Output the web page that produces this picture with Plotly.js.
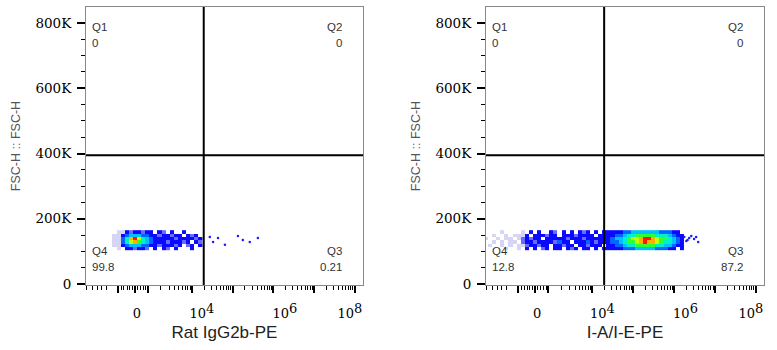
<!DOCTYPE html>
<html><head><meta charset="utf-8">
<script src="https://cdn.plot.ly/plotly-3.0.1.min.js"></script>
<style>html,body{margin:0;padding:0;background:#fff}#chart{width:777px;height:350px}</style>
</head><body><div id="chart"></div>
<script>
// ---------------- data ----------------
const xTitles = ['Rat IgG2b-PE', 'I-A/I-E-PE'];
const yTitle = 'FSC-H :: FSC-H';
const yTickVals = [0, 200000, 400000, 600000, 800000];
const yTickText = ['0', '200K', '400K', '600K', '800K'];
const xTickText = ['0', '10<sup><span style="font-size:13px">4</span></sup>', '10<sup><span style="font-size:13px">6</span></sup>', '10<sup><span style="font-size:13px">8</span></sup>'];
const quadNames = ['Q1', 'Q2', 'Q3', 'Q4'];
const leftQuadValues = ['0', '0', '0.21', '99.8'];
const rightQuadValues = ['0', '0', '87.2', '12.8'];
const gateX = 4.29;      // display units (decades)
const gateY = 395000;    // FSC-H

// density bins (FSC-H centres, bottom -> top)
const fscBins = [110000, 120000, 130000, 140000, 150000, 160000];

const leftBinsX = [2.0,2.1,2.2,2.3,2.4,2.5,2.6,2.7,2.8,2.9,3.0,3.1,3.2,3.3,3.4,3.5,3.6,3.7,3.8,3.9,4.0,4.1,4.2];
const leftDensity = [
  [0,0,1,0,3,3,2,3,3,2,0,3,0,3,2,0,3,0,0,0,3,0,0],
  [0,1,1,3,4,5,5,5,4,4,3,3,2,3,3,3,2,3,0,2,3,0,3],
  [0,1,1,4,6,8,9,7,6,5,4,3,3,3,2,3,3,3,2,3,0,3,2],
  [0,1,1,4,6,9,10,8,6,5,4,3,3,3,3,3,2,3,3,3,3,2,3],
  [0,1,1,3,4,5,5,5,4,4,3,3,2,3,3,2,3,3,0,3,2,3,0],
  [0,0,1,1,3,2,3,3,2,3,3,0,3,2,0,3,0,0,3,0,0,0,0]
];
const leftDotsX = [4.44, 4.52, 4.64, 4.81, 5.13, 5.25, 5.42, 5.62];
const leftDotsY = [144000, 129000, 141000, 120000, 147000, 135000, 129000, 141000];

const rightBinsX = [1.4,1.5,1.6,1.7,1.8,1.9,2.0,2.1,2.2,2.3,
  2.4,2.5,2.6,2.7,2.8,2.9,3.0,3.1,3.2,3.3,3.4,3.5,3.6,3.7,3.8,3.9,4.0,4.1,4.2,4.3,4.4,
  4.5,4.6,4.7,4.8,4.9,5.0,5.1,5.2,5.3,5.4,5.5,5.6,5.7,5.8,5.9,6.0,6.1,6.2];
const rightDensity = [
  [0,0,0,0,0,1,0,0,1,0, 3,0,3,0,2,3,0,3,3,0,3,2,3,0,3,3,0,3,0,3,3, 3,3,3,4,4,4,5,5,5,5,5,4,4,4,3,3,0,3],
  [0,1,0,0,1,0,1,0,1,1, 2,3,3,2,3,3,0,3,3,2,3,3,0,3,3,2,3,3,3,0,3, 3,4,4,5,6,6,7,7,7,7,7,6,6,5,5,4,3,3],
  [0,0,1,0,1,0,1,1,0,2, 3,3,2,3,3,3,3,2,4,3,3,0,3,3,3,4,3,2,3,3,3, 4,4,5,6,7,7,8,9,10,9,9,8,7,6,6,5,4,3],
  [1,0,0,1,0,1,1,0,1,2, 3,2,3,3,0,3,3,3,3,3,2,3,3,3,2,3,3,3,3,3,3, 4,5,5,6,7,8,8,9,10,10,9,8,7,7,6,5,4,3],
  [0,0,1,0,0,1,0,1,1,1, 3,0,3,3,3,2,3,3,0,3,3,3,2,3,3,3,3,0,3,3,3, 3,4,4,5,6,6,7,7,7,7,7,6,6,6,5,4,3,3],
  [0,0,0,0,1,0,0,0,0,1, 0,3,0,3,0,0,3,2,0,3,0,3,0,3,2,3,0,3,0,3,3, 3,3,3,4,4,5,5,5,5,5,5,5,4,4,4,3,3,0]
];
const rightDotsX = [6.25, 6.30, 6.33, 6.37, 6.42, 6.49, 6.54, 6.59];
const rightDotsY = [144000, 132000, 135000, 141000, 147000, 138000, 144000, 129000];

// ---------------- styling ----------------
const densityScale = [
  [0.000, '#d6d6f4'], [0.111, '#6a6aff'], [0.222, '#0a0aff'], [0.333, '#0068ff'],
  [0.444, '#00c0ff'], [0.556, '#00f0c8'], [0.667, '#30ff30'], [0.778, '#c8ff00'],
  [0.889, '#ffb000'], [1.000, '#ff1800']
];
const blankZero = z => z.map(r => r.map(v => v === 0 ? null : v));

function heat(xs, z, xa, ya) {
  return {type: 'heatmap', x: xs, y: fscBins, z: blankZero(z), xaxis: xa, yaxis: ya,
    colorscale: densityScale, zmin: 1, zmax: 10, showscale: false, hoverinfo: 'skip', zsmooth: false};
}
function dots(xs, ys, xa, ya) {
  return {type: 'scatter', mode: 'markers', x: xs, y: ys, xaxis: xa, yaxis: ya,
    marker: {size: 2.5, color: '#1a1aff'}, hoverinfo: 'skip'};
}

const data = [
  heat(leftBinsX, leftDensity, 'x', 'y'),
  dots(leftDotsX, leftDotsY, 'x', 'y'),
  heat(rightBinsX, rightDensity, 'x2', 'y2'),
  dots(rightDotsX, rightDotsY, 'x2', 'y2'),
  // empty traces so that the overlaying label-only axes are drawn
  {type: 'scatter', x: [], y: [], xaxis: 'x3', yaxis: 'y', hoverinfo: 'skip'},
  {type: 'scatter', x: [], y: [], xaxis: 'x4', yaxis: 'y2', hoverinfo: 'skip'}
];

const XR = [1.4, 8.2];
const YR = [-3000, 849000];
const majorX = [2.18, 2.60, 2.92, 4, 5, 6, 7, 8];
const minorX = [1.42, 1.55, 1.67, 1.79, 1.91, 2.26, 2.33, 2.41, 2.47, 2.53, 2.67, 2.74, 2.80, 2.87,
  3.24, 3.44, 3.58, 3.68, 3.77, 3.84, 3.90, 3.96];
[4, 5, 6, 7].forEach(d => [2,3,4,5,6,7,8,9].forEach(k => minorX.push(d + Math.log10(k))));
const labelPos = [2.65, 4.245, 6.28, 7.88];

const serif = {family: 'DejaVu Serif', size: 13.5, color: '#000'};
const sans = 'Liberation Sans, Arial, sans-serif';

function xMain(dom, title) {
  return {domain: dom, range: XR, showgrid: false, zeroline: false,
    showline: true, mirror: true, linecolor: '#888', linewidth: 1,
    tickmode: 'array', tickvals: majorX, showticklabels: false,
    ticks: 'outside', ticklen: 7, tickwidth: 2, tickcolor: '#000',
    minor: {tickmode: 'array', tickvals: minorX, ticks: 'outside', ticklen: 3.5, tickwidth: 1, tickcolor: '#000', showgrid: false},
    title: {text: title, font: {family: sans, size: 17, color: '#222'}, standoff: 34}};
}
function xLabels(over, anchor) {
  return {overlaying: over, anchor: anchor, side: 'bottom', range: XR, showgrid: false, zeroline: false,
    showline: false, ticks: '', tickmode: 'array', tickvals: labelPos, ticktext: xTickText,
    tickfont: {family: 'DejaVu Serif', size: 13, color: '#000'}, ticklabelstandoff: 19};
}
function yMain(anchor) {
  return {domain: [1 - 285/350, 1 - 7/350], anchor: anchor, range: YR, showgrid: false, zeroline: false,
    showline: true, mirror: true, linecolor: '#888', linewidth: 1,
    tickmode: 'array', tickvals: yTickVals, ticktext: yTickText, tickfont: serif,
    ticks: 'outside', ticklen: 8, tickwidth: 2, tickcolor: '#000', ticklabelstandoff: 3,
    minor: {dtick: 50000, tick0: 0, ticks: 'outside', ticklen: 4, tickwidth: 1, tickcolor: '#000', showgrid: false},
    title: {text: yTitle, font: {family: sans, size: 12.5, color: '#555'}, standoff: 12}};
}

function quadAnn(xref, yref, vals) {
  const f = {family: sans, size: 11.5, color: '#333'};
  const pos = [ // Q1, Q2, Q3, Q4
    {x: 0.013, xanchor: 'left', yn: 0.928, yv: 0.871},
    {x: 0.93, xanchor: 'right', yn: 0.928, yv: 0.871},
    {x: 0.93, xanchor: 'right', yn: 0.122, yv: 0.065},
    {x: 0.013, xanchor: 'left', yn: 0.122, yv: 0.065}
  ];
  const out = [];
  pos.forEach((p, i) => {
    out.push({xref: xref + ' domain', yref: yref + ' domain', x: p.x, y: p.yn, xanchor: p.xanchor, yanchor: 'middle', text: quadNames[i], showarrow: false, font: f});
    out.push({xref: xref + ' domain', yref: yref + ' domain', x: p.x, y: p.yv, xanchor: p.xanchor, yanchor: 'middle', text: vals[i], showarrow: false, font: f});
  });
  return out;
}
function gates(xref, yref) {
  const ln = {color: '#000', width: 2};
  return [
    {type: 'line', xref: xref, yref: yref + ' domain', x0: gateX, x1: gateX, y0: 0, y1: 1, line: ln},
    {type: 'line', xref: xref + ' domain', yref: yref, x0: 0, x1: 1, y0: gateY, y1: gateY, line: ln}
  ];
}

const layout = {
  width: 777, height: 350, margin: {l: 0, r: 0, t: 0, b: 0},
  paper_bgcolor: '#fff', plot_bgcolor: '#fff', showlegend: false,
  xaxis: Object.assign(xMain([86/777, 363/777], xTitles[0]), {anchor: 'y'}),
  yaxis: yMain('x'),
  xaxis2: Object.assign(xMain([486/777, 764/777], xTitles[1]), {anchor: 'y2'}),
  yaxis2: yMain('x2'),
  xaxis3: xLabels('x', 'y'),
  xaxis4: xLabels('x2', 'y2'),
  shapes: gates('x', 'y').concat(gates('x2', 'y2')),
  annotations: quadAnn('x', 'y', leftQuadValues).concat(quadAnn('x2', 'y2', rightQuadValues))
};

Plotly.newPlot('chart', data, layout, {staticPlot: true, displayModeBar: false});
</script></body></html>
